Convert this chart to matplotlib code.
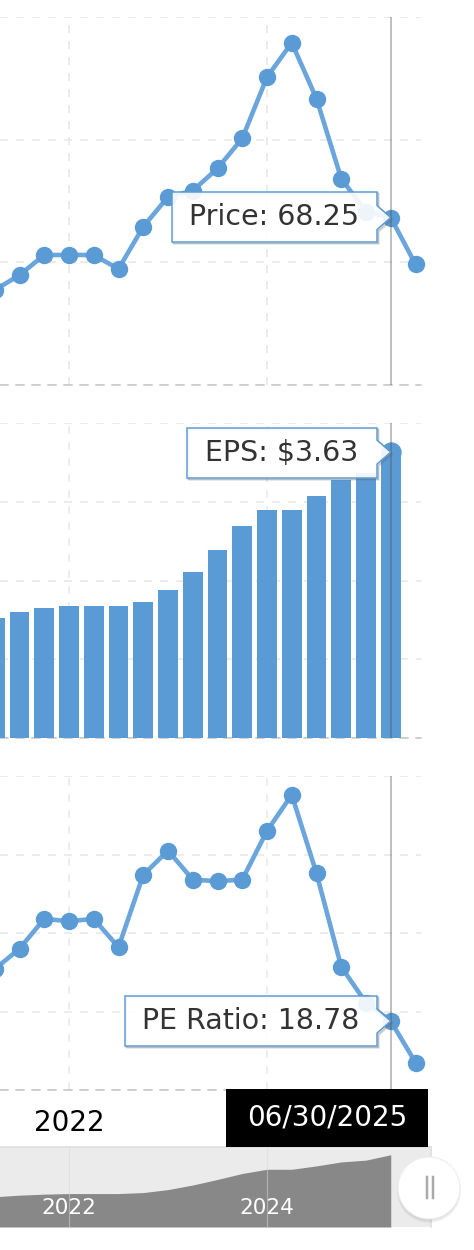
import matplotlib
matplotlib.use('Agg')

import matplotlib.pyplot as plt
import matplotlib.transforms as mtransforms
from matplotlib.patches import Polygon, Rectangle, Circle
from matplotlib.lines import Line2D

plt.rcParams['font.family'] = ['DejaVu Sans']
plt.rcParams['lines.scale_dashes'] = False

# quarterly data (quarter end dates)
dates = ['2021-06-30', '2021-09-30', '2021-12-31', '2022-03-31', '2022-06-30',
         '2022-09-30', '2022-12-31', '2023-03-31', '2023-06-30', '2023-09-30',
         '2023-12-31', '2024-03-31', '2024-06-30', '2024-09-30', '2024-12-31',
         '2025-03-31', '2025-06-30', '2025-09-30']
price = [38.7, 44.8, 53.0, 53.0, 53.0, 47.3, 64.5, 76.7, 79.2, 88.3,
         100.5, 125.5, 139.5, 116.7, 84.1, 70.6, 68.25, 49.2]
eps = [1.52, 1.60, 1.65, 1.68, 1.68, 1.68, 1.73, 1.88, 2.11, 2.39,
       2.69, 2.90, 2.90, 3.07, 3.27, 3.36, 3.63]
pe_ratio = [25.4, 28.0, 31.8, 31.5, 31.8, 28.2, 37.4, 40.5, 36.8, 36.6,
            36.8, 43.0, 47.6, 37.6, 25.7, 21.1, 18.78, 13.5]

hover_date = '2025-06-30'
hover_label = '06/30/2025'
year_ticks = [2022, 2024]
year_labels = ['2022', '2024']


def to_x(d):
    # points are drawn at the start of their quarter
    y, m, _ = d.split('-')
    return int(y) + (int(m) - 3) / 12.0


x = [to_x(d) for d in dates]
x_eps = x[:len(eps)]
hi = dates.index(hover_date)

W, H = 474, 1250
fig = plt.figure(figsize=(W / 100, H / 100), dpi=100)
fig.patch.set_facecolor('white')


def px_rect(l, t, r, b):
    return [l / W, 1 - b / H, (r - l) / W, (b - t) / H]


PX = 0.72  # one pixel in points
BLUE = '#5b9bd5'
LINE = '#6aa5dc'
GRID = '#e6e6e6'
DASH = (0, (8 * PX, 8 * PX))

# x scale: 99 px per year, 2022 at px 69
x0 = 2022 - 69 / 99.0
x1 = 2022 + (421 - 69) / 99.0


def style_panel(ax, ymin, ymax, step):
    ax.set_xlim(x0, x1)
    ax.set_ylim(ymin, ymax)
    ax.set_yticks([ymin + step * i for i in range(int(round((ymax - ymin) / step)) + 1)])
    ax.set_xticks(year_ticks)
    ax.set_xticklabels([])
    ax.set_yticklabels([])
    ax.tick_params(length=0)
    ax.grid(True, color=GRID, linestyle=DASH, linewidth=1.5 * PX)
    ax.set_axisbelow(True)
    for s in ['left', 'right', 'top']:
        ax.spines[s].set_visible(False)
    ax.spines['bottom'].set_color('#c4c4c4')
    ax.spines['bottom'].set_linestyle(DASH)
    ax.spines['bottom'].set_linewidth(1.5 * PX)
    ax.patch.set_alpha(0)


# Price panel
ax1 = fig.add_axes(px_rect(0, 17, 421, 385))
style_panel(ax1, 0, 150, 50)
ax1.plot(x, price, color=LINE, lw=4.6 * PX, zorder=3)
ax1.plot(x, price, 'o', color=BLUE, ms=16 * PX, zorder=4, clip_on=False)
ax1.axvline(x[hi], color='#555555', alpha=0.5, lw=1.5 * PX, zorder=5)

# EPS panel
ax2 = fig.add_axes(px_rect(0, 423, 421, 738))
style_panel(ax2, 0, 4, 1)
ax2.bar(x_eps, eps, width=20 / 99.0, color=BLUE, zorder=3)
ax2.plot([x_eps[-1]], [eps[-1]], 'o', color=BLUE, ms=19 * PX, zorder=4, clip_on=False)
ax2.axvline(x[hi], color='#555555', alpha=0.5, lw=1.5 * PX, zorder=5)

# PE panel
ax3 = fig.add_axes(px_rect(0, 776, 421, 1090))
style_panel(ax3, 10, 50, 10)
ax3.plot(x, pe_ratio, color=LINE, lw=4.6 * PX, zorder=3)
ax3.plot(x, pe_ratio, 'o', color=BLUE, ms=16 * PX, zorder=4, clip_on=False)
ax3.axvline(x[hi], color='#555555', alpha=0.5, lw=1.5 * PX, zorder=5)
# the 2024 label sits under the date box, so only 2022 shows
ax3.set_xticklabels([year_labels[0], ''], fontsize=20, color='black')
ax3.tick_params(axis='x', pad=19 * PX)

# navigator
axn = fig.add_axes(px_rect(0, 1147, 431, 1227))
axn.set_facecolor('#ebebeb')
axn.set_xlim(x0, 2022 + (431 - 69) / 99.0)
axn.set_ylim(0, 4.02)
axn.fill_between(x_eps, eps, 0, color='#888888', lw=0)
axn.set_xticks([])
axn.set_yticks([])
for s in ['left', 'bottom']:
    axn.spines[s].set_visible(False)
for s in ['top', 'right']:
    axn.spines[s].set_color('#dcdcdc')
    axn.spines[s].set_linewidth(1.5 * PX)
blend = mtransforms.blended_transform_factory(axn.transData, axn.transAxes)
for yr, lab in zip(year_ticks, year_labels):
    axn.axvline(yr, color='#d8d8d8', alpha=0.5, lw=1.2 * PX)
    axn.text(yr, 0.24, lab, transform=blend, ha='center', va='center',
             color='white', fontsize=15.5)

inch = fig.dpi_scale_trans


def tooltip(ax, xv, yv, text, left, top, right, bottom):
    tx, ty = ax.transData.transform((xv, yv)) / fig.dpi
    l, r = left / 100, right / 100
    t, b = (H - top) / 100, (H - bottom) / 100
    pts = [(l, t), (r, t), (r, ty + 0.12), (tx, ty), (r, ty - 0.12), (r, b), (l, b)]
    # shadow: offset outline only, so the box stays white
    for k, a in enumerate([0.35, 0.2]):
        off = 0.012 + 0.008 * k
        sh = [(px + off, py - off) for px, py in pts]
        fig.patches.append(Polygon(sh, closed=True, transform=inch, fill=False,
                                   ec='#666666', alpha=a, lw=1.5 * PX, zorder=6))
    fig.patches.append(Polygon(pts, closed=True, transform=inch, fc=(1, 1, 1, 0.9),
                               ec=BLUE, lw=1.5 * PX, zorder=7))
    fig.text((l + r) / 2, (t + b) / 2, text, transform=inch, ha='center', va='center',
             fontsize=20.5, color='#333333', zorder=8)


tooltip(ax1, x[hi], price[hi], 'Price: %.2f' % price[hi], 172, 192, 377, 242)
tooltip(ax2, x_eps[-1], eps[-1], 'EPS: $%.2f' % eps[-1], 187, 428, 377, 478)
tooltip(ax3, x[hi], pe_ratio[hi], 'PE Ratio: %.2f' % pe_ratio[hi], 125, 996, 377, 1046)

# date label box
fig.patches.append(Rectangle((2.26, (H - 1147) / 100), 2.02, 0.58, transform=inch,
                             fc='black', ec='none', zorder=6))
fig.text(3.27, (H - 1118) / 100, hover_label, transform=inch, ha='center', va='center',
         fontsize=20, color='white', zorder=8)

# navigator handle
cx, cy = 4.29, (H - 1188) / 100
for i, a in enumerate([0.06, 0.05, 0.04]):
    fig.patches.append(Circle((cx, cy - 0.01 - 0.01 * i), 0.31 + 0.005 * i, transform=inch,
                              fc='black', alpha=a, ec='none', zorder=6))
fig.patches.append(Circle((cx, cy), 0.31, transform=inch, fc='white', ec='#eeeeee',
                          lw=0.8, zorder=7))
for bx in [4.267, 4.327]:
    fig.lines.append(Line2D([bx, bx], [(H - 1177) / 100, (H - 1198) / 100], transform=inch,
                            color='#aaaaaa', lw=2.5 * PX, zorder=8))

fig.savefig('out.png', dpi=100)
